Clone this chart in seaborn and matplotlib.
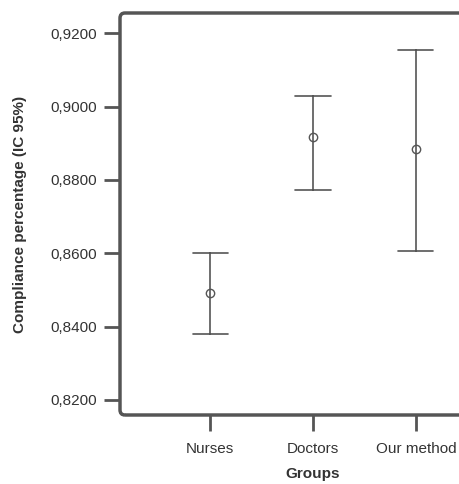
import numpy as np
import pandas as pd
import matplotlib
matplotlib.use("Agg")
import matplotlib.pyplot as plt
from matplotlib.patches import FancyBboxPatch
import seaborn as sns

groups = ["Nurses", "Doctors", "Our method"]
means = [0.8491, 0.8918, 0.8883]
lower = [0.8381, 0.8773, 0.8605]
upper = [0.8600, 0.9030, 0.9154]
yticks = [0.82, 0.84, 0.86, 0.88, 0.90, 0.92]
ytick_labels = ["0,8200", "0,8400", "0,8600", "0,8800", "0,9000", "0,9200"]

rows = []
for g, lo, m, hi in zip(groups, lower, means, upper):
    for v in (lo, m, hi):
        rows.append({"group": g, "value": v})
df = pd.DataFrame(rows)

sns.set_style("white")
plt.rcParams["font.family"] = ["Liberation Sans", "DejaVu Sans"]

fig = plt.figure(figsize=(4.6, 4.84), dpi=100)
W, H = 460, 484
left, right, top, bottom = 120, 506, 13, 415
ax = fig.add_axes([left / W, 1 - bottom / H, (right - left) / W, (bottom - top) / H])

edge = "#555555"
sns.pointplot(data=df, x="group", y="value", order=groups, ax=ax,
              estimator=np.median, errorbar=lambda v: (v.min(), v.max()),
              capsize=0.34, linestyle="none", marker="o", markersize=6,
              markerfacecolor="none", markeredgewidth=1.0, color=edge,
              err_kws={"linewidth": 1.2})

ax.set_xlim(-0.874, 2.874)
ax.set_ylim(0.8159, 0.9255)
ax.set_yticks(yticks)
ax.set_yticklabels(ytick_labels)

for s in ax.spines.values():
    s.set_visible(False)
frame = FancyBboxPatch((0, 0), 1, 1, boxstyle="round,pad=0,rounding_size=0.013",
                       transform=ax.transAxes, facecolor="none", edgecolor=edge,
                       linewidth=2.5, clip_on=False, zorder=5)
ax.add_patch(frame)

ax.tick_params(axis="both", direction="out", length=11.5, width=2, color=edge,
               labelsize=11, labelcolor="#333333", left=True, bottom=True)
ax.tick_params(axis="y", pad=5)
ax.tick_params(axis="x", pad=8)
ax.set_xlabel("Groups", fontsize=11, fontweight="bold", color="#333333", labelpad=8)
ax.set_ylabel("Compliance percentage (IC 95%)", fontsize=11, fontweight="bold",
              color="#333333", labelpad=17)

fig.savefig("out.png", dpi=100)
